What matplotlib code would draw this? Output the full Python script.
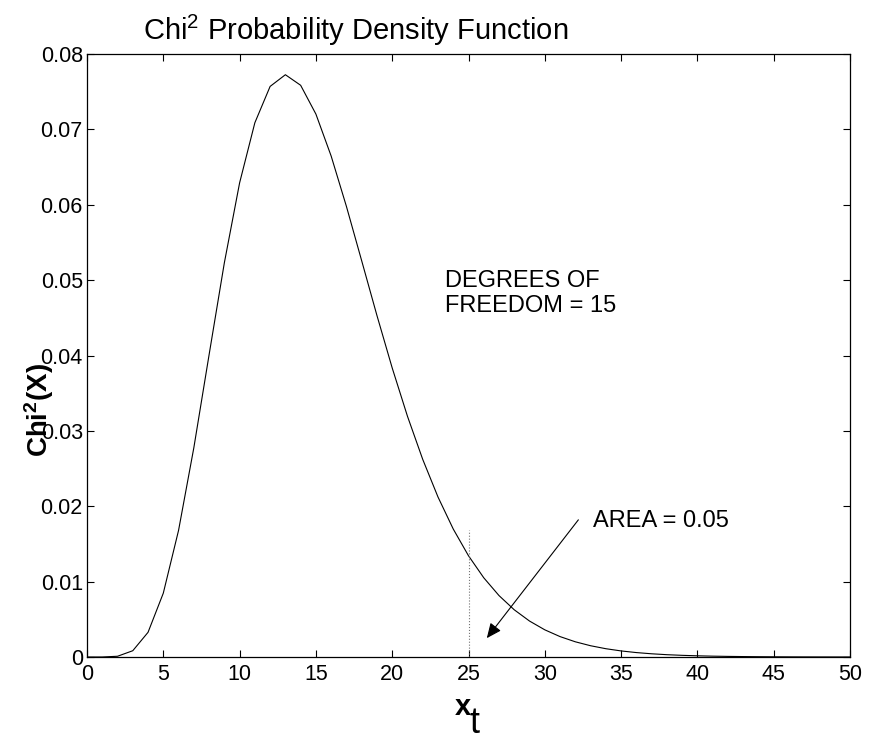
import matplotlib
matplotlib.use("Agg")
import matplotlib.pyplot as plt

plt.rcParams['font.family'] = ['Liberation Sans', 'DejaVu Sans']
plt.rcParams['mathtext.fontset'] = 'custom'
plt.rcParams['mathtext.rm'] = 'Liberation Sans'
plt.rcParams['mathtext.it'] = 'Liberation Sans:italic'
plt.rcParams['mathtext.bf'] = 'Liberation Sans:bold'

# ---- data ----
x_vals = list(range(0, 51))
pdf_vals = [0.0, 1.8e-6, 9.8e-5, 0.000833, 0.003275, 0.00847, 0.01680, 0.02775,
            0.04009, 0.05229, 0.06290, 0.07088, 0.07570, 0.07725, 0.07585,
            0.07203, 0.06646, 0.05978, 0.05257, 0.04531, 0.03835, 0.03194,
            0.02622, 0.02123, 0.01698, 0.01343, 0.01051, 0.008147, 0.006260,
            0.004768, 0.003605, 0.002706, 0.002017, 0.001494, 0.001100,
            0.000806, 0.000587, 0.000426, 0.000307, 0.000221, 0.000158,
            0.000112, 7.95e-5, 5.62e-5, 3.96e-5, 2.78e-5, 1.95e-5, 1.36e-5,
            9.4e-6, 6.5e-6, 4.5e-6]
crit_x = 25
crit_top = 0.0169
arrow_tip = (26.2, 0.0025)
arrow_tail = (32.2, 0.0182)
x_ticks = [0, 5, 10, 15, 20, 25, 30, 35, 40, 45, 50]
x_tick_labels = ['0', '5', '10', '15', '20', '25', '30', '35', '40', '45', '50']
y_ticks = [0, 0.01, 0.02, 0.03, 0.04, 0.05, 0.06, 0.07, 0.08]
y_tick_labels = ['0', '0.01', '0.02', '0.03', '0.04', '0.05', '0.06', '0.07', '0.08']
title = 'Chi$^2$ Probability Density Function'
dof_lines = ['DEGREES OF', 'FREEDOM = 15']
area_text = 'AREA = 0.05'

W, H = 871, 736
fig = plt.figure(figsize=(W / 100, H / 100), dpi=100)
ax = fig.add_axes([87 / W, 1 - 657 / H, (850 - 87) / W, (657 - 54) / H])

ax.plot(x_vals, pdf_vals, color='black', lw=0.8)
ax.plot([crit_x, crit_x], [0, crit_top], color='0.45', lw=0.8, ls=':')
ax.annotate('', xy=arrow_tip, xytext=arrow_tail,
            arrowprops=dict(arrowstyle='-|>,head_length=0.45,head_width=0.2',
                            color='black', lw=0.8, mutation_scale=20,
                            shrinkA=0, shrinkB=0))

ax.text(23.46, 0.04909, dof_lines[0], fontsize=17, va='baseline', ha='left')
ax.text(23.46, 0.04577, dof_lines[1], fontsize=17, va='baseline', ha='left')
ax.text(33.16, 0.01725, area_text, fontsize=17, va='baseline', ha='left')

ax.set_xlim(0, 50)
ax.set_ylim(0, 0.08)
ax.set_xticks(x_ticks)
ax.set_xticklabels(x_tick_labels)
ax.set_yticks(y_ticks)
ax.set_yticklabels(y_tick_labels)
ax.tick_params(direction='in', length=5, width=0.8, labelsize=15.5,
               top=True, right=True)
ax.tick_params(axis='x', pad=5)
ax.tick_params(axis='y', pad=3)
for s in ax.spines.values():
    s.set_linewidth(0.9)

fig.text(356 / W, 1 - 40 / H, title, ha='center', va='baseline', fontsize=21)
fig.text(39 / W, 1 - 410 / H, 'Chi$^\\mathbf{2}$(X)', rotation=90, ha='center',
         va='center', fontsize=20, fontweight='bold')
fig.text(455 / W, 1 - 715 / H, 'x', ha='left', va='baseline', fontsize=21,
         fontweight='bold')
fig.text(469 / W, 1 - 733 / H, 't', ha='left', va='baseline', fontsize=26)

fig.savefig('out.png', dpi=100)
